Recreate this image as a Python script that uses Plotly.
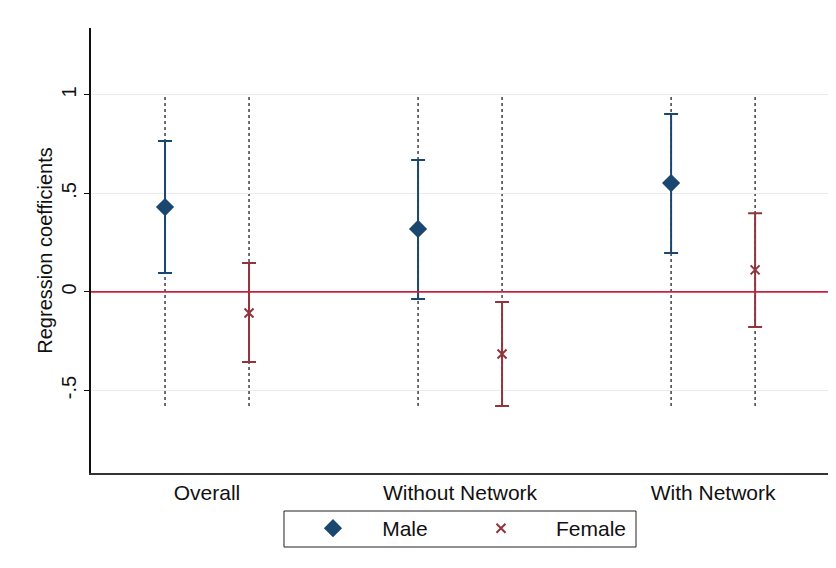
import plotly.graph_objects as go

categories = ["Overall", "Without Network", "With Network"]
male_coef = [0.431, 0.320, 0.553]
male_lo = [0.096, -0.036, 0.198]
male_hi = [0.766, 0.670, 0.904]
female_coef = [-0.107, -0.315, 0.112]
female_lo = [-0.355, -0.579, -0.178]
female_hi = [0.147, -0.051, 0.400]
y_ticks = [-0.5, 0, 0.5, 1]
y_tick_labels = ["-.5", "0", ".5", "1"]

MALE = "#1a476f"
FEMALE = "#90353b"
ZERO = "#c8203f"
FONT = "Liberation Sans, Arial, sans-serif"
OFF = 0.166

xc = list(range(1, len(categories) + 1))
xm = [x - OFF for x in xc]
xf = [x + OFF for x in xc]

fig = go.Figure()

# dotted guide lines at each group position
for x in xm + xf:
    fig.add_shape(type="line", x0=x, x1=x, y0=0.99, y1=-0.585, xref="x", yref="y",
                  line=dict(color="#222222", width=1.3, dash="dot"), layer="below")

fig.add_shape(type="line", x0=0, x1=1, xref="paper", y0=0, y1=0, yref="y",
              line=dict(color=ZERO, width=1.8))

# legend frame
fig.add_shape(type="rect", xref="paper", yref="paper", x0=0.2615, x1=0.7385,
              y0=-0.0854, y1=-0.1663, line=dict(color="#222222", width=1))

fig.add_trace(go.Scatter(
    x=xm, y=male_coef, mode="markers", name="\u00a0\u00a0\u00a0\u00a0\u00a0Male",
    marker=dict(symbol="diamond", size=14, color=MALE),
    error_y=dict(type="data", symmetric=False,
                 array=[h - c for h, c in zip(male_hi, male_coef)],
                 arrayminus=[c - l for c, l in zip(male_coef, male_lo)],
                 color=MALE, thickness=2, width=7),
))
fig.add_trace(go.Scatter(
    x=xf, y=female_coef, mode="markers", name="\u00a0\u00a0\u00a0\u00a0\u00a0\u00a0Female",
    marker=dict(symbol="x-thin", size=9, color=FEMALE, line=dict(width=2, color=FEMALE)),
    error_y=dict(type="data", symmetric=False,
                 array=[h - c for h, c in zip(female_hi, female_coef)],
                 arrayminus=[c - l for c, l in zip(female_coef, female_lo)],
                 color=FEMALE, thickness=2, width=7),
))

fig.update_layout(
    width=828, height=560,
    margin=dict(l=83, r=7, t=20, b=95),
    paper_bgcolor="white", plot_bgcolor="white",
    font=dict(family=FONT, size=21, color="#111111"),
    showlegend=True,
    legend=dict(orientation="h", x=0.3008, xanchor="left", y=-0.0787, yanchor="top",
                borderwidth=0, entrywidth=123, bgcolor="rgba(0,0,0,0)",
                font=dict(family=FONT, size=21, color="#111111")),
    xaxis=dict(range=[0.5415, 3.458], tickvals=xc, ticktext=categories,
               showgrid=False, zeroline=False, showline=True, linecolor="#333333",
               linewidth=1.5, ticks="", tickfont=dict(size=21), automargin=False),
    yaxis=dict(range=[-0.919, 1.34], tickvals=y_ticks, ticktext=y_tick_labels,
               tickangle=-90, showgrid=True, gridcolor="#ececec", gridwidth=1,
               zeroline=False, showline=True, linecolor="#111111", linewidth=1.5,
               ticks="outside", ticklen=5, tickcolor="#111111",
               tickfont=dict(size=20), automargin=False,
               title=dict(text="Regression coefficients", font=dict(size=20), standoff=0)),
)

fig.write_html("out.html")
